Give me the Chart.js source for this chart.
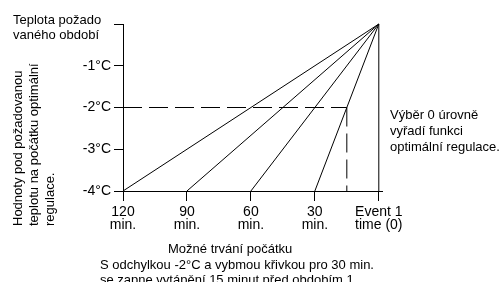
<!DOCTYPE html>
<html>
<head>
<meta charset="utf-8">
<script src="https://cdn.jsdelivr.net/npm/chart.js@4.4.1/dist/chart.umd.min.js"></script>
<style>
  html, body { margin: 0; padding: 0; background: #fff; }
  #wrap { position: relative; width: 499px; height: 282px; overflow: hidden; font-family: "Liberation Sans", Arial, sans-serif; color: #000; }
  #wrap canvas { position: absolute; left: 0; top: 0; }
  .note { position: absolute; font-size: 13px; line-height: 15px; white-space: nowrap; }
  #yTitle { left: 10px; top: 226px; line-height: 16px; transform: rotate(-90deg); transform-origin: 0 0; }
</style>
</head>
<body>
<div id="wrap">
  <canvas id="chart" width="499" height="282"></canvas>
  <div class="note" style="left:13px; top:12px;">Teplota požado<br>vaného období</div>
  <div class="note" id="yTitle">Hodnoty pod požadovanou<br>teplotu na počátku optimální<br>regulace.</div>
  <div class="note" style="left:390px; top:107px; line-height:16px;">Výběr 0 úrovně<br>vyřadí funkci<br>optimální regulace.</div>
  <div class="note" style="left:168px; top:241px;">Možné trvání počátku</div>
  <div class="note" style="left:100px; top:257px;">S odchylkou -2°C a vybmou křivkou pro 30 min.<br>se zapne vytápění 15 minut před obdobím 1.</div>
</div>
<script>
// minutes before event 1 at which each curve starts (at -4°C)
const startMinutes = [120, 90, 60, 30];
const xTickValues = [120, 90, 60, 30, 0];
const xTickLabels = [["120", "min."], ["90", "min."], ["60", "min."], ["30", "min."], ["Event 1", "time (0)"]];
const yTickValues = [-4, -3, -2, -1, 0];
const yTickLabels = ["-4°C", "-3°C", "-2°C", "-1°C", ""];
const deviation = -2;      // chosen deviation
const chosenStart = 15;    // minutes before event 1 for the 30 min curve
const lowTemp = -4;
const targetTemp = 0;

const black = "#000";
const datasets = [];

startMinutes.forEach((m) => {
  datasets.push({
    data: [{ x: m, y: lowTemp }, { x: 0, y: targetTemp }],
    borderColor: black,
    borderWidth: 1,
    pointRadius: 0,
    clip: false,
  });
});

// vertical line at event 1
datasets.push({
  data: [{ x: 0, y: lowTemp }, { x: 0, y: targetTemp }],
  borderColor: black,
  borderWidth: 1,
  pointRadius: 0,
  clip: false,
});

// dashed helper lines
datasets.push({
  data: [{ x: 120, y: deviation }, { x: chosenStart, y: deviation }],
  borderColor: black,
  borderWidth: 1,
  borderDash: [19, 7],
  pointRadius: 0,
  clip: false,
});
datasets.push({
  data: [{ x: chosenStart, y: deviation }, { x: chosenStart, y: lowTemp }],
  borderColor: black,
  borderWidth: 1,
  borderDash: [19, 7],
  pointRadius: 0,
  clip: false,
});

const tickFont = { family: "'Liberation Sans', Arial, sans-serif", size: 14, lineHeight: 0.95 };

new Chart(document.getElementById("chart"), {
  type: "scatter",
  data: { datasets: datasets },
  options: {
    responsive: false,
    animation: false,
    showLine: true,
    layout: { padding: { left: 0, right: 117, top: 24, bottom: 0 } },
    plugins: { legend: { display: false }, tooltip: { enabled: false } },
    scales: {
      x: {
        type: "linear",
        reverse: true,
        min: -1.5,
        max: 120,
        afterBuildTicks: (scale) => {
          scale.ticks = xTickValues.map((v) => ({ value: v }));
        },
        afterFit: (scale) => { scale.height = 91; },
        grid: { drawOnChartArea: false, drawTicks: true, tickLength: 10, color: black, lineWidth: 1 },
        border: { display: true, color: black, width: 1 },
        ticks: {
          color: black,
          font: tickFont,
          padding: 4,
          maxRotation: 0,
          callback: (v, i) => xTickLabels[i],
        },
      },
      y: {
        type: "linear",
        min: -4,
        max: 0,
        afterBuildTicks: (scale) => {
          scale.ticks = yTickValues.map((v) => ({ value: v }));
        },
        afterFit: (scale) => { scale.width = 123; },
        grid: { drawOnChartArea: false, drawTicks: true, tickLength: 9, color: black, lineWidth: 1 },
        border: { display: true, color: black, width: 1 },
        ticks: {
          color: black,
          font: tickFont,
          padding: 3,
          callback: (v, i) => yTickLabels[i],
        },
      },
    },
  },
});
</script>
</body>
</html>
